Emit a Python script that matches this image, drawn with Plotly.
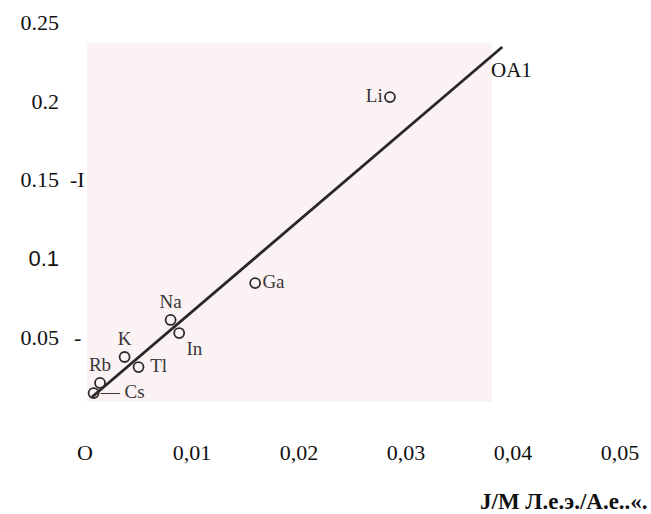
import plotly.graph_objects as go

# data
elements = ["Li", "Ga", "Na", "In", "K", "Tl", "Rb", "Cs"]
labels = ["Li", "Ga", "Na", "In", "K", " Tl", "Rb", "— Cs"]
x_vals = [0.0285, 0.0159, 0.0080, 0.0088, 0.0037, 0.0050, 0.0014, 0.0008]
y_vals = [0.2025, 0.0844, 0.0610, 0.0527, 0.0375, 0.0311, 0.0210, 0.0146]
label_pos = ["middle left", "middle right", "top center", "bottom right",
             "top center", "middle right", "top center", "middle right"]

fit_x = [0.00065, 0.0390]
fit_y = [0.0121, 0.2343]

x_ticks = [0, 0.01, 0.02, 0.03, 0.04, 0.05]
x_ticktext = ["O", "0,01", "0,02", "0,03", "0,04", "0,05"]
y_ticks = [0.05, 0.1, 0.15, 0.2, 0.25]
y_ticktext = ["0.05", "<span style='font-family:Liberation Sans'>0.1</span>", "0.15", "0.2", "0.25"]

x_title = "J/M Л.е.э./А.е..«."
line_label = "OA1"

SERIF = "Liberation Serif, Times New Roman, serif"

fig = go.Figure()

fig.add_trace(go.Scatter(
    x=fit_x, y=fit_y, mode="lines",
    line=dict(color="#2a2526", width=2.8),
    hoverinfo="skip", showlegend=False,
))

fig.add_trace(go.Scatter(
    x=x_vals, y=y_vals, mode="markers+text",
    text=labels, textposition=label_pos,
    textfont=dict(family=SERIF, size=19, color="#3a3638"),
    marker=dict(symbol="circle-open", size=10, color="#2f2b2c",
                line=dict(width=1.8, color="#2f2b2c")),
    showlegend=False, name="",
))

# faint scanned-page background
fig.add_shape(type="rect", xref="x", yref="y",
              x0=0.0002, x1=0.0380, y0=0.0089, y1=0.2368,
              fillcolor="#fbf2f4", line=dict(width=0), layer="below")

fig.add_annotation(x=0.0399, y=0.2197, xref="x", yref="y", text=line_label,
                   showarrow=False, font=dict(family=SERIF, size=21, color="#111"))

# tick-mark remnants next to some y labels
fig.add_annotation(x=-0.00075, y=0.15, xref="x", yref="y", text="-I",
                   showarrow=False, font=dict(family=SERIF, size=22, color="#111"))
fig.add_annotation(x=-0.00075, y=0.05, xref="x", yref="y", text="-",
                   showarrow=False, font=dict(family=SERIF, size=22, color="#111"))

fig.add_annotation(x=1.009, y=-0.151, xref="paper", yref="paper", text="<b>" + x_title + "</b>",
                   xanchor="right", yanchor="middle", showarrow=False,
                   font=dict(family=SERIF, size=23, color="#111"))

fig.update_xaxes(range=[-0.00234, 0.05234], tickvals=x_ticks, ticktext=x_ticktext,
                 showgrid=False, zeroline=False, showline=False, ticks="",
                 tickfont=dict(family=SERIF, size=22, color="#111"))
fig.update_yaxes(range=[-0.0133, 0.2597], tickvals=y_ticks, ticktext=y_ticktext,
                 showgrid=False, zeroline=False, showline=False, ticks="",
                 tickfont=dict(family=SERIF, size=22, color="#111"))

fig.update_layout(
    width=651, height=514,
    margin=dict(l=60, r=6, t=7, b=77),
    paper_bgcolor="white", plot_bgcolor="white",
    showlegend=False,
)

fig.write_html("out.html", config={"displayModeBar": False},
               post_script="document.body.style.margin='0px';")
